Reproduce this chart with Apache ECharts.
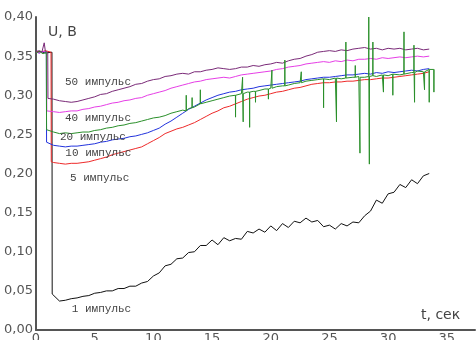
<!DOCTYPE html>
<html>
<head>
<meta charset="utf-8">
<script src="https://cdn.jsdelivr.net/npm/echarts@6/dist/echarts.min.js"></script>
<style>
html,body{margin:0;padding:0;background:#fff;}
#c{width:476px;height:340px;}
</style>
</head>
<body>
<div id="c"></div>
<script>
// time grid for the main part of every curve (seconds)
const times = [1.5,2.0,2.5,3.0,3.5,4.0,4.5,5.0,5.5,6.0,6.5,7.0,7.5,8.0,8.5,9.0,9.5,10.0,10.5,11.0,11.5,12.0,12.5,13.0,13.5,14.0,14.5,15.0,15.5,16.0,16.5,17.0,17.5,18.0,18.5,19.0,19.5,20.0,20.5,21.0,21.5,22.0,22.5,23.0,23.5,24.0,24.5,25.0,25.5,26.0,26.5,27.0,27.5,28.0,28.5,29.0,29.5,30.0,30.5,31.0,31.5,32.0,32.5,33.0,33.5];

// pre-pulse level segment [t, U] and drop moment per curve
const prePurple  = [[0,0.356],[0.3,0.357],[0.5,0.355],[0.7,0.367],[0.8,0.356],[1.0,0.355]];
const preMagenta = [[0,0.355],[0.3,0.354],[0.6,0.356],[0.9,0.355]];
const preGreen   = [[0,0.354],[0.3,0.356],[0.6,0.353],[0.88,0.355]];
const preBlue    = [[0,0.355],[0.3,0.354],[0.6,0.356],[0.88,0.354]];
const preRed     = [[0,0.356],[0.4,0.355],[0.8,0.357],[1.28,0.355]];
const preBlack   = [[0,0.355],[0.4,0.356],[0.8,0.354],[1.36,0.355]];

// first point right after the drop
const dropPurple  = [1.02,0.296];
const dropMagenta = [0.92,0.280];
const dropGreen   = [0.90,0.256];
const dropBlue    = [0.90,0.240];
const dropRed     = [1.30,0.215];
const dropBlack   = [1.38,0.046];

const purple50 = [0.295,0.293,0.292,0.291,0.292,0.294,0.296,0.298,0.301,0.302,0.305,0.307,0.309,0.311,0.314,0.315,0.318,0.320,0.321,0.324,0.325,0.327,0.328,0.327,0.330,0.330,0.332,0.333,0.335,0.334,0.333,0.334,0.336,0.336,0.338,0.337,0.339,0.340,0.342,0.341,0.344,0.346,0.347,0.350,0.352,0.355,0.356,0.357,0.356,0.358,0.357,0.359,0.360,0.361,0.359,0.360,0.358,0.360,0.359,0.360,0.358,0.359,0.360,0.358,0.359];
const magenta40 = [0.279,0.278,0.279,0.280,0.280,0.282,0.283,0.285,0.286,0.288,0.290,0.291,0.293,0.294,0.296,0.297,0.300,0.302,0.304,0.306,0.309,0.311,0.313,0.315,0.317,0.318,0.320,0.321,0.322,0.323,0.322,0.324,0.326,0.327,0.328,0.329,0.330,0.331,0.333,0.334,0.336,0.337,0.338,0.340,0.341,0.342,0.343,0.342,0.344,0.343,0.345,0.344,0.346,0.346,0.347,0.346,0.348,0.347,0.348,0.349,0.348,0.349,0.350,0.349,0.350];
const green20 = [0.253,0.251,0.252,0.251,0.252,0.253,0.253,0.255,0.256,0.258,0.259,0.261,0.262,0.264,0.265,0.267,0.269,0.271,0.272,0.274,0.277,0.279,0.281,0.283,0.285,0.289,0.291,0.293,0.295,0.297,0.299,0.300,0.302,0.304,0.305,0.306,0.308,0.309,0.311,0.312,0.313,0.315,0.316,0.318,0.319,0.320,0.321,0.320,0.322,0.321,0.322,0.323,0.324,0.323,0.325,0.324,0.326,0.325,0.327,0.326,0.328,0.329,0.331,0.330,0.333];
const blue10 = [0.236,0.235,0.234,0.235,0.235,0.236,0.237,0.238,0.240,0.241,0.243,0.244,0.245,0.247,0.248,0.250,0.252,0.255,0.258,0.263,0.267,0.272,0.277,0.282,0.286,0.290,0.294,0.297,0.300,0.302,0.304,0.305,0.307,0.308,0.309,0.311,0.312,0.313,0.314,0.315,0.316,0.317,0.318,0.320,0.321,0.322,0.323,0.323,0.324,0.325,0.326,0.326,0.327,0.328,0.327,0.329,0.328,0.330,0.329,0.330,0.331,0.332,0.331,0.333,0.334];
const red5 = [0.214,0.213,0.212,0.213,0.213,0.214,0.215,0.217,0.219,0.221,0.224,0.226,0.228,0.230,0.232,0.234,0.238,0.242,0.246,0.251,0.254,0.257,0.259,0.262,0.265,0.269,0.273,0.277,0.280,0.284,0.286,0.289,0.292,0.295,0.297,0.299,0.300,0.302,0.304,0.305,0.307,0.309,0.310,0.312,0.314,0.315,0.316,0.316,0.317,0.317,0.318,0.318,0.319,0.320,0.320,0.321,0.322,0.322,0.323,0.324,0.325,0.326,0.327,0.328,0.330];
const black1 = [0.044,0.037,0.038,0.040,0.041,0.043,0.044,0.047,0.048,0.050,0.050,0.053,0.053,0.056,0.056,0.060,0.062,0.069,0.073,0.082,0.084,0.091,0.092,0.099,0.100,0.108,0.108,0.115,0.109,0.118,0.114,0.117,0.116,0.126,0.124,0.129,0.125,0.133,0.127,0.136,0.131,0.139,0.137,0.143,0.138,0.140,0.132,0.134,0.129,0.136,0.133,0.138,0.137,0.146,0.152,0.166,0.162,0.174,0.176,0.186,0.182,0.192,0.187,0.197,0.200];

// spikes on the 20-pulse curve: [t, base level, spike tip]
const greenSpikes = [[12.8,0.280,0.300],[13.3,0.284,0.297],[14.0,0.289,0.307],[17.0,0.300,0.272],[17.6,0.302,0.323],[17.65,0.302,0.266],[18.2,0.304,0.259],[18.7,0.305,0.291],[19.8,0.308,0.295],[20.1,0.309,0.332],[21.2,0.312,0.345],[22.6,0.316,0.330],[24.5,0.321,0.284],[25.6,0.322,0.266],[26.4,0.322,0.368],[27.2,0.323,0.338],[27.6,0.323,0.226],[28.35,0.324,0.400],[28.4,0.324,0.212],[28.7,0.325,0.368],[29.6,0.326,0.304],[30.4,0.327,0.300],[31.35,0.327,0.381],[32.2,0.329,0.364],[32.25,0.329,0.291],[33.1,0.330,0.307],[33.5,0.333,0.291],[33.9,0.333,0.304]];

// curve annotations: [t, U, text]
const curveLabels = [[2.47,0.317,'50 импульс'],[2.47,0.271,'40 импульс'],[2.04,0.246,'20 импульс'],[2.5,0.226,'10 импульс'],[2.9,0.194,'5 импульс'],[3.05,0.027,'1 импульс']];

const xTicks = {min:0, max:37.4, interval:5};
const yTicks = {min:0, max:0.40, interval:0.05};

function build(pre, drop, vals){
  const out = pre.slice();
  out.push(drop);
  for(let i=0;i<vals.length;i++) out.push([times[i], vals[i]]);
  return out;
}
function buildGreen(){
  const base = build(preGreen, dropGreen, green20);
  const sp = [];
  greenSpikes.forEach(s=>{ sp.push([s[0]-0.01,s[1]]); sp.push([s[0],s[2]]); sp.push([s[0]+0.01,s[1]]); });
  const all = base.concat(sp);
  all.sort((a,b)=>a[0]-b[0]);
  return all;
}

const chart = echarts.init(document.getElementById('c'), null, {renderer:'canvas'});
const lineBase = {type:'line', showSymbol:false, symbol:'none', animation:false, silent:true};
chart.setOption({
  backgroundColor:'#fff',
  animation:false,
  grid:{left:36, right:1, top:17, bottom:10, containLabel:false, outerBoundsMode:'none'},
  xAxis:{type:'value', min:xTicks.min, max:xTicks.max, interval:xTicks.interval,
    axisLine:{show:true, onZero:false, lineStyle:{color:'#555', width:2}},
    axisTick:{show:false}, splitLine:{show:false},
    axisLabel:{showMaxLabel:false, margin:2, color:'#555', fontSize:13, fontFamily:'DejaVu Sans'}},
  yAxis:{type:'value', min:yTicks.min, max:yTicks.max, interval:yTicks.interval,
    axisLine:{show:true, onZero:false, lineStyle:{color:'#555', width:2}},
    axisTick:{show:false}, splitLine:{show:false},
    axisLabel:{margin:3, color:'#555', fontSize:13, fontFamily:'DejaVu Sans',
      formatter:v=>v.toFixed(2).replace('.',',')}},
  graphic:[
    {type:'text', left:48, top:25, style:{text:'U, B', fill:'#444', font:'14px "DejaVu Sans"'}},
    {type:'text', left:421, top:308, style:{text:'t, сек', fill:'#444', font:'14px "DejaVu Sans"'}}
  ],
  series:[
    Object.assign({}, lineBase, {name:'1', data:build(preBlack,dropBlack,black1), lineStyle:{color:'#111', width:1},
      markPoint:{symbol:'circle', symbolSize:0, silent:true, animation:false,
        label:{show:true, position:'right', distance:0, color:'#444', fontSize:11, fontFamily:'Liberation Mono',
          formatter:p=>p.data.name},
        data:curveLabels.map(l=>({coord:[l[0],l[1]], name:l[2]}))}}),
    Object.assign({}, lineBase, {name:'5', data:build(preRed,dropRed,red5), lineStyle:{color:'#ee2a2a', width:1}}),
    Object.assign({}, lineBase, {name:'10', data:build(preBlue,dropBlue,blue10), lineStyle:{color:'#2233dd', width:1}}),
    Object.assign({}, lineBase, {name:'40', data:build(preMagenta,dropMagenta,magenta40), lineStyle:{color:'#e63ee6', width:1}}),
    Object.assign({}, lineBase, {name:'50', data:build(prePurple,dropPurple,purple50), lineStyle:{color:'#7a2a78', width:1}}),
    Object.assign({}, lineBase, {name:'20', data:buildGreen(), lineStyle:{color:'#2a8f2a', width:1}})
  ]
});
</script>
</body>
</html>
